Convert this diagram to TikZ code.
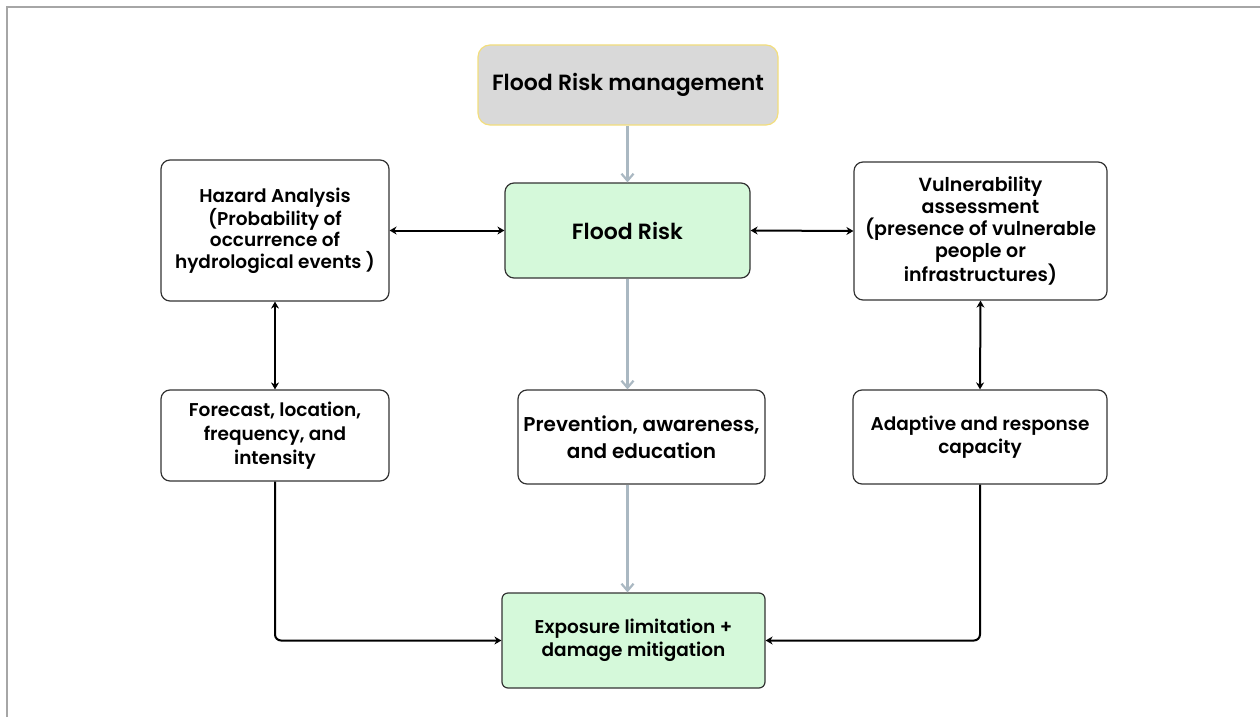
\documentclass[tikz,border=0pt]{standalone}
\usepackage{fontspec}
\setmainfont{Poppins}[BoldFont={Poppins SemiBold}]
\usetikzlibrary{arrows.meta}

\definecolor{boxline}{HTML}{333333}
\definecolor{greenfill}{HTML}{D5F9DA}
\definecolor{topfill}{HTML}{D9D9D9}
\definecolor{topline}{HTML}{F3DE7C}
\definecolor{flowgray}{HTML}{AAB8C2}
\definecolor{framegray}{HTML}{A6A6A6}

\tikzset{
  box/.style={draw=boxline, line width=1.2pt, rounded corners=9pt, fill=white,
    align=center, inner sep=2pt, font=\bfseries\fontsize{18.5}{21.5}\selectfont},
  greenbox/.style={box, fill=greenfill, rounded corners=6pt},
  topbox/.style={box, draw=topline, fill=topfill, rounded corners=12pt,
    font=\bfseries\fontsize{22}{26}\selectfont},
  flow/.style={draw=flowgray, line width=2.6pt,
    -{Straight Barb[length=7pt, width=12pt, line width=2.2pt]}},
  link/.style={draw=black, line width=2pt,
    {Stealth[length=7pt, width=8pt]}-{Stealth[length=7pt, width=8pt]}},
  onelink/.style={draw=black, line width=2pt, rounded corners=6pt,
    -{Stealth[length=7pt, width=8pt]}}
}

\begin{document}
\begin{tikzpicture}[x=1pt, y=-1pt]
  \useasboundingbox (0,0) rectangle (1260,717);

  % page frame
  \draw[framegray, line width=2pt] (7,717) -- (7,7) -- (1260,7);

  % central column
  \node[topbox, minimum width=300pt, minimum height=80pt] (frm) at (628,85) {Flood Risk management};
  \node[greenbox, minimum width=245pt, minimum height=95pt, rounded corners=9pt,
        font=\bfseries\fontsize{22}{26}\selectfont] (fr) at (627.5,230.5) {Flood Risk};
  \node[box, minimum width=247pt, minimum height=94pt,
        font=\bfseries\fontsize{20}{27}\selectfont] (prev) at (641.5,437) {Prevention, awareness,\\and education};
  \node[greenbox, minimum width=263pt, minimum height=95pt,
        font=\bfseries\fontsize{18.5}{23}\selectfont] (exp) at (633.5,640.5) {Exposure limitation +\\damage mitigation};

  % left column
  \node[box, minimum width=228pt, minimum height=141pt] (haz) at (275,230.5)
    {Hazard Analysis\\(Probability of\\occurrence of\\hydrological events )};
  \node[box, minimum width=228pt, minimum height=91pt,
        font=\bfseries\fontsize{18.5}{24}\selectfont] (fc) at (275,435.5)
    {Forecast, location,\\frequency, and\\intensity};

  % right column
  \node[box, minimum width=253pt, minimum height=138pt,
        font=\bfseries\fontsize{19}{22}\selectfont] (vul) at (980.5,231)
    {Vulnerability\\assessment\\(presence of vulnerable\\people or\\infrastructures)};
  \node[box, minimum width=254pt, minimum height=94pt,
        font=\bfseries\fontsize{18.5}{23}\selectfont] (ad) at (980,437)
    {Adaptive and response\\capacity};

  % main flow
  \draw[flow] (frm.south -| fr.north) -- (fr.north);
  \draw[flow] (fr.south) -- (fr.south |- prev.north);
  \draw[flow] (prev.south -| fr.south) -- (fr.south |- exp.north);

  % two-way links
  \draw[link] (haz.east) -- (fr.west);
  \draw[link] (fr.east) -- (vul.west);
  \draw[link] (haz.south) -- (fc.north);
  \draw[link] (vul.south) -- (ad.north);

  % links into exposure limitation
  \draw[onelink] (fc.south) |- (exp.west);
  \draw[onelink] (ad.south) |- (exp.east);
\end{tikzpicture}
\end{document}
